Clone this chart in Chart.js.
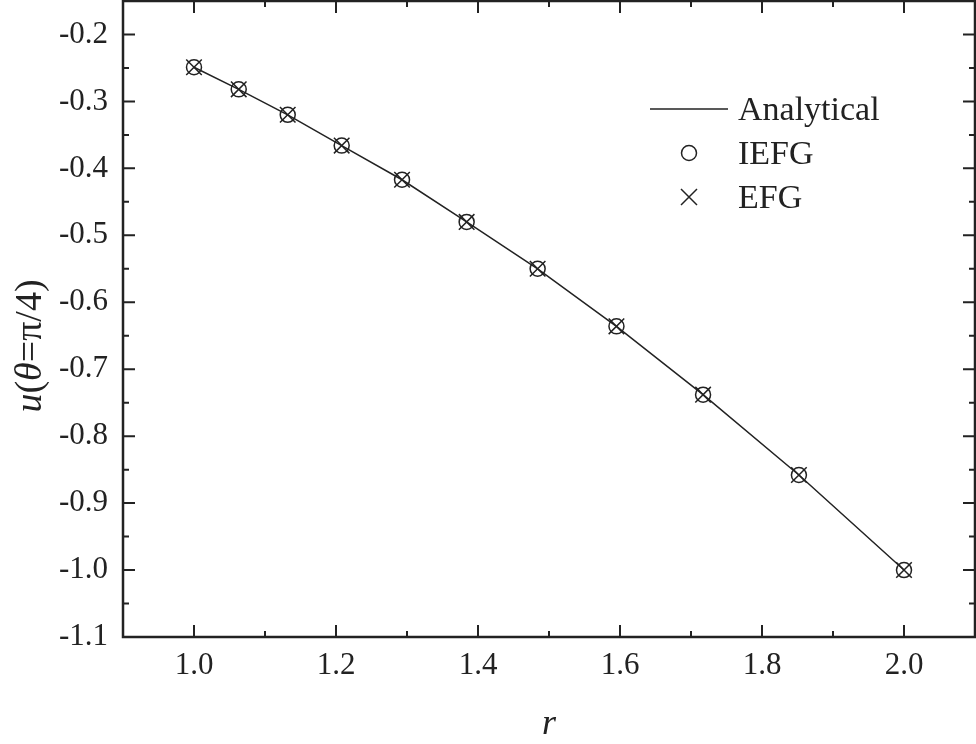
<!DOCTYPE html>
<html>
<head>
<meta charset="utf-8">
<script src="https://cdn.jsdelivr.net/npm/chart.js@4/dist/chart.umd.min.js"></script>
<style>
  html, body { margin: 0; padding: 0; background: #fff; }
  #wrap { width: 976px; height: 744px; }
</style>
</head>
<body>
<div id="wrap"><canvas id="chart" width="976" height="744"></canvas></div>
<script>
// values
const rValues = [1.0, 1.063, 1.132, 1.208, 1.293, 1.384, 1.484, 1.595, 1.717, 1.852, 2.0];
const analytical = [-0.249, -0.282, -0.320, -0.366, -0.417, -0.480, -0.550, -0.636, -0.738, -0.858, -1.0];
const iefg = [-0.249, -0.282, -0.320, -0.366, -0.417, -0.480, -0.550, -0.636, -0.738, -0.858, -1.0];
const efg = [-0.249, -0.282, -0.320, -0.366, -0.417, -0.480, -0.550, -0.636, -0.738, -0.858, -1.0];

const xMajor = [1.0, 1.2, 1.4, 1.6, 1.8, 2.0];
const xMinor = [1.1, 1.3, 1.5, 1.7, 1.9];
const yMajor = [-0.2, -0.3, -0.4, -0.5, -0.6, -0.7, -0.8, -0.9, -1.0, -1.1];
const yMinor = [-0.25, -0.35, -0.45, -0.55, -0.65, -0.75, -0.85, -0.95, -1.05];

const INK = '#222';
const SERIF = "'Liberation Serif', 'DejaVu Serif', serif";

const toPts = (ys) => rValues.map((x, i) => ({ x, y: ys[i] }));

// no extra room for overhanging tick labels, the frame fills the canvas
function noPad(s) {
  s.paddingTop = 0; s.paddingBottom = 0; s.paddingLeft = 0; s.paddingRight = 0;
}

// frame, inward ticks, legend and axis titles
const decorations = {
  id: 'decorations',
  afterDraw(chart) {
    const { ctx, chartArea: a, scales: { x, y } } = chart;
    ctx.save();
    ctx.strokeStyle = INK;
    ctx.lineWidth = 2.5;
    ctx.strokeRect(a.left, a.top, a.right - a.left, a.bottom - a.top);

    ctx.lineWidth = 2;
    ctx.beginPath();
    const xt = (v, len) => {
      const px = x.getPixelForValue(v);
      ctx.moveTo(px, a.bottom); ctx.lineTo(px, a.bottom - len);
      ctx.moveTo(px, a.top); ctx.lineTo(px, a.top + len);
    };
    const yt = (v, len) => {
      const py = y.getPixelForValue(v);
      ctx.moveTo(a.left, py); ctx.lineTo(a.left + len, py);
      ctx.moveTo(a.right, py); ctx.lineTo(a.right - len, py);
    };
    xMajor.forEach(v => xt(v, 12));
    xMinor.forEach(v => xt(v, 6));
    yMajor.forEach(v => yt(v, 12));
    yMinor.forEach(v => yt(v, 6));
    ctx.stroke();

    // legend
    const ds = chart.data.datasets;
    ctx.fillStyle = INK;
    ctx.font = '34px ' + SERIF;
    ctx.textBaseline = 'alphabetic';
    ctx.textAlign = 'left';
    ctx.lineWidth = 1.5;
    ctx.beginPath();
    ctx.moveTo(650, 109); ctx.lineTo(728, 109);
    ctx.stroke();
    ctx.fillText(ds[0].label, 738, 120);
    ctx.beginPath();
    ctx.arc(689, 153, 7.5, 0, Math.PI * 2);
    ctx.stroke();
    ctx.fillText(ds[1].label, 738, 164);
    ctx.beginPath();
    ctx.moveTo(681, 189); ctx.lineTo(697, 205);
    ctx.moveTo(697, 189); ctx.lineTo(681, 205);
    ctx.stroke();
    ctx.fillText(ds[2].label, 738, 208);

    // x title
    ctx.font = 'italic 36px ' + SERIF;
    ctx.textAlign = 'center';
    ctx.fillText('r', 549, 734);

    // y title, mixed italics
    ctx.translate(41, 346);
    ctx.rotate(-Math.PI / 2);
    const parts = [['u', true], ['(', false], ['θ', true], ['=π/4)', false]];
    const fontOf = (it) => (it ? 'italic ' : '') + '38px ' + SERIF;
    let total = 0;
    parts.forEach(([t, it]) => { ctx.font = fontOf(it); total += ctx.measureText(t).width; });
    let cx = -total / 2;
    ctx.textAlign = 'left';
    parts.forEach(([t, it]) => {
      ctx.font = fontOf(it);
      ctx.fillText(t, cx, 0);
      cx += ctx.measureText(t).width;
    });
    ctx.restore();
  }
};

new Chart(document.getElementById('chart'), {
  type: 'scatter',
  data: {
    datasets: [
      {
        label: 'Analytical',
        data: toPts(analytical),
        showLine: true,
        borderColor: INK,
        borderWidth: 1.5,
        pointRadius: 0,
        fill: false
      },
      {
        label: 'IEFG',
        data: toPts(iefg),
        pointStyle: 'circle',
        pointRadius: 7.5,
        pointBorderWidth: 1.5,
        borderColor: INK,
        backgroundColor: 'rgba(0,0,0,0)'
      },
      {
        label: 'EFG',
        data: toPts(efg),
        pointStyle: 'crossRot',
        pointRadius: 11,
        pointBorderWidth: 1.5,
        borderColor: INK,
        backgroundColor: 'rgba(0,0,0,0)'
      }
    ]
  },
  options: {
    responsive: false,
    animation: false,
    layout: { autoPadding: false, padding: { left: 0, top: 1, right: 1, bottom: 0 } },
    plugins: { legend: { display: false }, tooltip: { enabled: false } },
    scales: {
      x: {
        type: 'linear',
        min: 0.9,
        max: 2.1,
        grid: { display: false, drawTicks: false },
        border: { display: false },
        afterBuildTicks: (s) => { s.ticks = xMajor.map(v => ({ value: v })); },
        afterFit: (s) => { s.height = 107; noPad(s); },
        ticks: {
          padding: 10,
          maxRotation: 0,
          color: INK,
          font: { family: SERIF, size: 31 },
          callback: (v) => v.toFixed(1)
        }
      },
      y: {
        type: 'linear',
        min: -1.1,
        max: -0.15,
        grid: { display: false, drawTicks: false },
        border: { display: false },
        afterBuildTicks: (s) => { s.ticks = yMajor.map(v => ({ value: v })); },
        afterFit: (s) => { s.width = 123; noPad(s); },
        ticks: {
          padding: 15,
          color: INK,
          font: { family: SERIF, size: 31 },
          callback: (v) => v.toFixed(1)
        }
      }
    }
  },
  plugins: [decorations]
});
</script>
</body>
</html>
